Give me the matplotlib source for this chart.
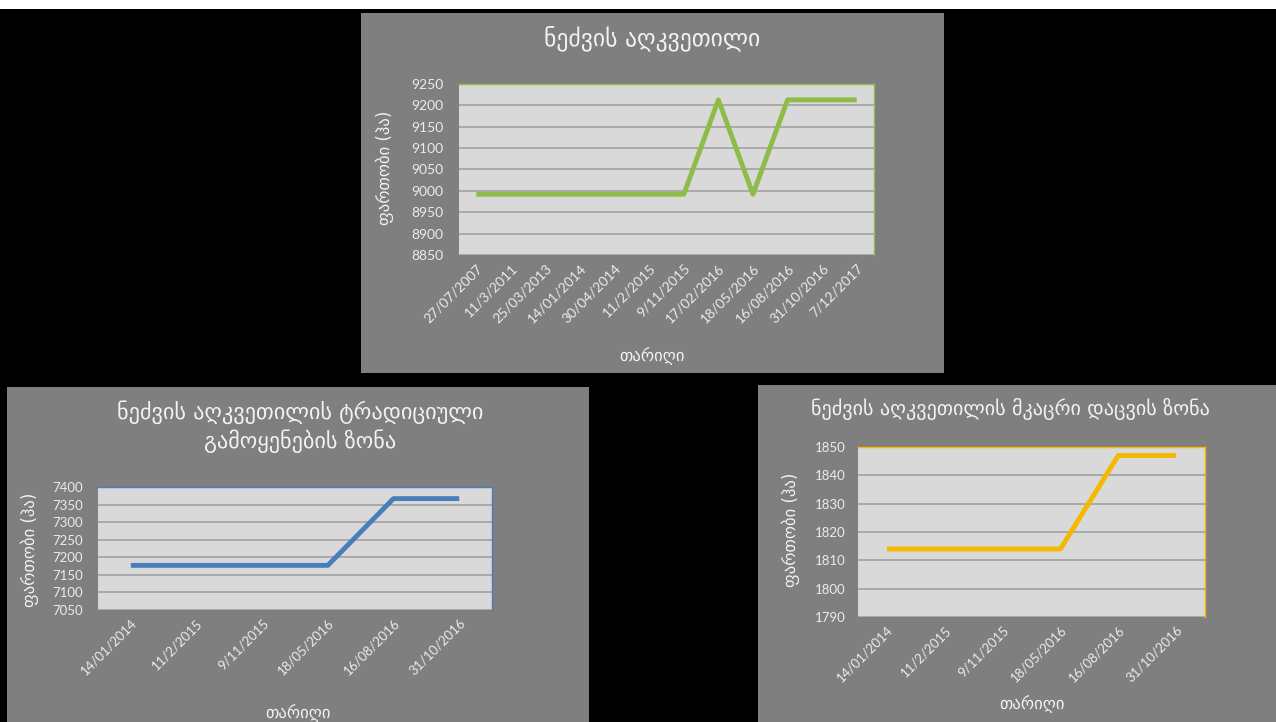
import matplotlib.pyplot as plt
from matplotlib.patches import Rectangle

# data
dates_all = ['27/07/2007', '11/3/2011', '25/03/2013', '14/01/2014', '30/04/2014',
             '11/2/2015', '9/11/2015', '17/02/2016', '18/05/2016', '16/08/2016',
             '31/10/2016', '7/12/2017']
area_all = [8992, 8992, 8992, 8992, 8992, 8992, 8992, 9213, 8992, 9213, 9213, 9213]

dates_zone = ['14/01/2014', '11/2/2015', '9/11/2015', '18/05/2016', '16/08/2016', '31/10/2016']
area_trad = [7177, 7177, 7177, 7177, 7367, 7367]
area_strict = [1814, 1814, 1814, 1814, 1847, 1847]

title_all = 'ნეძვის აღკვეთილი'
title_trad = 'ნეძვის აღკვეთილის ტრადიციული\nგამოყენების ზონა'
title_strict = 'ნეძვის აღკვეთილის მკაცრი დაცვის ზონა'
ylabel = 'ფართობი (ჰა)'
xlabel = 'თარიღი'

W, H = 1276, 722
PANEL = '#7f7f7f'
PLOT = '#d9d9d9'
GRID = '#a5a5a5'
TXT = '#f2f2f2'
TICK = '#ebebeb'

plt.rcParams['font.family'] = ['DejaVu Sans']

fig = plt.figure(figsize=(W / 100, H / 100), dpi=100)
fig.patch.set_facecolor('black')


def box(x0, y0, x1, y1):
    return [x0 / W, 1 - y1 / H, (x1 - x0) / W, (y1 - y0) / H]


def panel(x0, y0, x1, y1, color=PANEL):
    b = box(x0, y0, x1, y1)
    fig.patches.append(Rectangle((b[0], b[1]), b[2], b[3], transform=fig.transFigure,
                                 facecolor=color, edgecolor='none', zorder=-10))


def fx(x):
    return x / W


def fy(y):
    return 1 - y / H


# white strip at the very top, then the three grey chart panels
panel(0, 0, W, 9, 'white')
panel(361, 13, 944, 373)
panel(7, 387, 589, H)
panel(758, 385, W, H)


def chart(rect, dates, vals, ylim, step, color, ypad=10, fs=10):
    ax = fig.add_axes(box(*rect))
    ax.set_zorder(5)
    ax.set_facecolor(PLOT)
    x = range(len(dates))
    ax.plot(x, vals, color=color, lw=3.5, solid_capstyle='butt', zorder=3)
    ax.set_xlim(-0.5, len(dates) - 0.5)
    ax.set_ylim(*ylim)
    ax.set_yticks(range(ylim[0], ylim[1] + 1, step))
    ax.grid(axis='y', color=GRID, lw=1.3)
    ax.set_axisbelow(True)
    ax.set_xticks(list(x))
    ax.set_xticklabels(dates, rotation=45, ha='right', rotation_mode='anchor')
    ax.tick_params(length=0, colors=TICK, labelsize=fs)
    ax.tick_params(axis='y', pad=ypad)
    ax.tick_params(axis='x', pad=5)
    for lab in ax.get_xticklabels() + ax.get_yticklabels():
        lab.set_family('Lato')
    for s in ax.spines.values():
        s.set_color(color)
        s.set_linewidth(1)
    ax.spines['left'].set_visible(False)
    ax.spines['bottom'].set_visible(False)
    return ax


# top: whole reserve
chart((459, 84, 874, 255), dates_all, area_all, (8850, 9250), 50, '#8fbc48', ypad=11)
fig.text(fx(652), fy(38), title_all, color=TXT, fontsize=17, ha='center', va='center')
fig.text(fx(385), fy(168), ylabel, color=TXT, fontsize=12, rotation=90, ha='center', va='center')
fig.text(fx(652), fy(356), xlabel, color=TXT, fontsize=12, ha='center', va='center')

# bottom left: traditional use zone
chart((98, 487, 492, 610), dates_zone, area_trad, (7050, 7400), 50, '#4a7ebb', ypad=11, fs=9.5)
fig.text(fx(300), fy(427), title_trad, color=TXT, fontsize=16, ha='center', va='center',
         linespacing=1.3)
fig.text(fx(30), fy(550), ylabel, color=TXT, fontsize=12, rotation=90, ha='center', va='center')
fig.text(fx(298), fy(713), xlabel, color=TXT, fontsize=12, ha='center', va='center')

# bottom right: strict protection zone
chart((858, 447, 1205, 617), dates_zone, area_strict, (1790, 1850), 10, '#f5b800', ypad=9, fs=9.5)
fig.text(fx(1010), fy(409), title_strict, color=TXT, fontsize=14.5, ha='center', va='center')
fig.text(fx(791), fy(530), ylabel, color=TXT, fontsize=12, rotation=90, ha='center', va='center')
fig.text(fx(1032), fy(704), xlabel, color=TXT, fontsize=12, ha='center', va='center')

fig.savefig('out.png', dpi=100, facecolor=fig.get_facecolor())
